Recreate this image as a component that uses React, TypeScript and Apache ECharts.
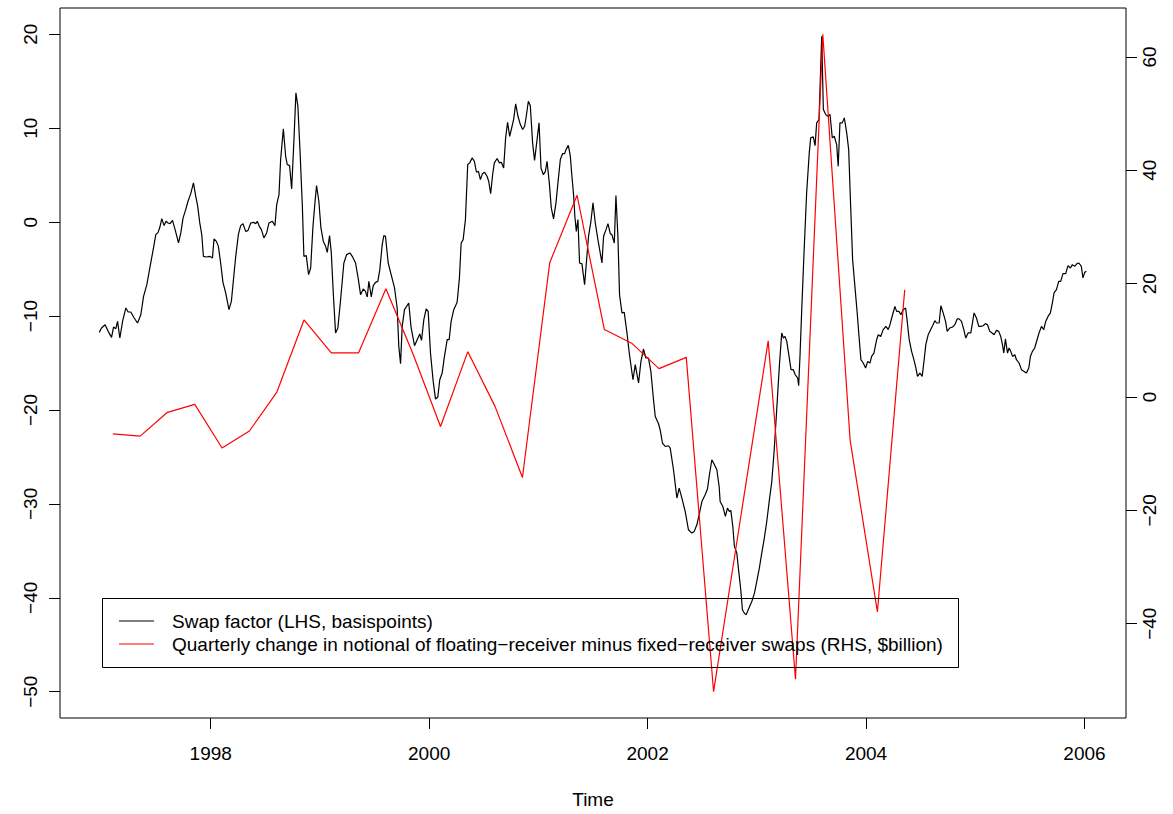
import React, { useEffect, useRef } from "react";
import * as echarts from "echarts";

const swapFactor1997to1999: [number, number][] = [
  [1996.979,-11.74],[1997.000,-11.27],[1997.033,-10.92],[1997.061,-11.63],[1997.092,-12.27],[1997.110,-11.17],[1997.131,-11.35],[1997.147,-10.57],[1997.168,-12.34],[1997.193,-10.57],[1997.223,-9.14],[1997.244,-9.57],[1997.268,-9.57],[1997.299,-10.21],[1997.330,-10.74],[1997.360,-9.86],[1997.385,-7.91],[1997.415,-6.66],[1997.445,-4.71],[1997.476,-2.75],[1997.497,-1.33],[1997.518,-1.09],[1997.534,-0.55],[1997.552,0.37],[1997.573,-0.37],[1997.591,0.09],[1997.610,-0.09],[1997.628,-0.16],[1997.650,0.19],[1997.674,-0.80],[1997.705,-2.22],[1997.726,-1.15],[1997.747,0.45],[1997.771,1.33],[1997.792,2.22],[1997.817,3.04],[1997.842,4.18],[1997.863,2.75],[1997.881,1.68],[1997.899,-0.02],[1997.918,-1.33],[1997.933,-3.64],[1997.961,-3.71],[1997.991,-3.64],
  [1998.016,-3.81],[1998.030,-1.79],[1998.052,-2.05],[1998.070,-2.58],[1998.091,-4.35],[1998.112,-6.41],[1998.137,-7.54],[1998.167,-9.32],[1998.189,-8.44],[1998.208,-6.13],[1998.229,-3.64],[1998.253,-1.33],[1998.274,-0.37],[1998.295,-0.16],[1998.320,-0.98],[1998.341,-0.91],[1998.366,-0.09],[1998.390,-0.02],[1998.412,-0.16],[1998.427,0.09],[1998.445,-0.45],[1998.464,-0.80],[1998.487,-1.68],[1998.512,-1.15],[1998.533,-0.09],[1998.564,0.09],[1998.588,-0.37],[1998.604,1.86],[1998.625,2.93],[1998.640,6.66],[1998.665,9.93],[1998.686,7.01],[1998.701,6.13],[1998.722,6.02],[1998.741,3.54],[1998.762,8.79],[1998.780,13.76],[1998.798,12.34],[1998.817,7.72],[1998.839,1.68],[1998.853,-3.64],[1998.875,-3.57],[1998.896,-5.59],[1998.915,-4.88],[1998.936,-0.45],[1998.954,2.05],[1998.969,3.89],[1998.990,2.22],
  [1999.009,-0.62],[1999.031,-2.05],[1999.052,-2.58],[1999.067,-3.22],[1999.088,-1.44],[1999.104,-3.28],[1999.122,-7.54],[1999.143,-11.80],[1999.164,-11.27],[1999.189,-8.26],[1999.219,-4.35],[1999.244,-3.46],[1999.274,-3.28],[1999.296,-3.64],[1999.326,-4.35],[1999.351,-6.05],[1999.372,-7.72],[1999.396,-7.12],[1999.417,-7.37],[1999.433,-7.97],[1999.448,-6.31],[1999.470,-7.97],[1999.488,-6.77],[1999.509,-6.41],[1999.530,-6.31],[1999.548,-5.06],[1999.570,-2.40],[1999.585,-1.44],[1999.600,-1.51],[1999.625,-4.35],[1999.652,-5.59],[1999.683,-7.01],[1999.707,-9.14],[1999.722,-13.23],[1999.738,-15.08],[1999.753,-11.10],[1999.774,-9.32],[1999.813,-8.61],[1999.835,-11.27],[1999.866,-13.16],[1999.890,-12.52],[1999.914,-11.91],[1999.930,-12.59],[1999.951,-10.39],[1999.973,-9.25],[1999.991,-9.50],
];
const swapFactor2000to2002: [number, number][] = [
  [2000.012,-13.94],[2000.037,-16.96],[2000.058,-18.84],[2000.079,-18.62],[2000.097,-16.78],[2000.119,-16.07],[2000.140,-14.30],[2000.165,-12.52],[2000.183,-12.52],[2000.201,-10.57],[2000.225,-9.32],[2000.256,-8.54],[2000.277,-5.94],[2000.293,-2.22],[2000.311,-1.86],[2000.332,0.27],[2000.353,6.13],[2000.371,6.31],[2000.393,6.84],[2000.414,6.48],[2000.433,5.31],[2000.451,5.41],[2000.469,4.53],[2000.487,5.14],[2000.508,5.31],[2000.530,4.88],[2000.545,4.35],[2000.563,3.04],[2000.582,5.17],[2000.597,6.31],[2000.622,6.77],[2000.643,6.31],[2000.661,6.37],[2000.682,5.77],[2000.700,8.97],[2000.718,10.63],[2000.737,9.14],[2000.759,10.21],[2000.773,10.92],[2000.792,12.59],[2000.813,11.27],[2000.835,10.39],[2000.856,9.86],[2000.874,10.21],[2000.889,11.27],[2000.908,12.87],[2000.926,12.41],[2000.947,8.44],[2000.965,6.58],[2000.988,8.79],
  [2001.006,10.57],[2001.024,5.77],[2001.045,5.06],[2001.064,5.41],[2001.079,6.48],[2001.100,4.18],[2001.118,1.51],[2001.139,0.34],[2001.161,2.05],[2001.179,4.18],[2001.201,6.66],[2001.222,7.30],[2001.240,7.30],[2001.253,7.72],[2001.274,8.18],[2001.292,7.08],[2001.307,4.88],[2001.322,2.93],[2001.334,0.62],[2001.347,-0.98],[2001.362,0.27],[2001.377,-4.35],[2001.399,-4.45],[2001.423,-6.66],[2001.438,-4.53],[2001.459,-1.51],[2001.481,0.09],[2001.500,2.05],[2001.521,-0.09],[2001.545,-1.86],[2001.582,-4.35],[2001.597,-1.51],[2001.619,-0.80],[2001.637,-0.16],[2001.658,-1.23],[2001.673,-1.33],[2001.695,-2.22],[2001.710,2.82],[2001.728,-1.51],[2001.743,-7.72],[2001.765,-9.67],[2001.786,-9.61],[2001.811,-11.80],[2001.834,-14.12],[2001.866,-16.78],[2001.887,-15.18],[2001.917,-17.13],[2001.939,-14.83],[2001.962,-13.51],[2001.984,-14.47],
  [2002.008,-14.47],[2002.030,-15.90],[2002.054,-18.91],[2002.070,-20.69],[2002.100,-21.47],[2002.115,-22.11],[2002.136,-23.52],[2002.161,-23.89],[2002.191,-23.81],[2002.207,-24.06],[2002.237,-26.37],[2002.268,-29.38],[2002.289,-28.32],[2002.314,-29.38],[2002.344,-30.81],[2002.374,-32.76],[2002.405,-33.11],[2002.426,-32.94],[2002.451,-32.23],[2002.475,-30.98],[2002.497,-29.75],[2002.527,-29.03],[2002.548,-28.42],[2002.566,-26.90],[2002.588,-25.30],[2002.612,-25.84],[2002.634,-26.37],[2002.655,-28.15],[2002.664,-29.75],[2002.689,-30.28],[2002.712,-31.34],[2002.731,-30.45],[2002.749,-30.81],[2002.762,-30.70],[2002.780,-32.41],[2002.795,-34.54],[2002.817,-35.24],[2002.831,-36.84],[2002.853,-39.15],[2002.868,-41.28],[2002.886,-41.64],[2002.902,-41.82],[2002.923,-41.21],[2002.954,-40.40],[2002.978,-39.51],[2002.999,-38.27],
];
const swapFactor2003to2005: [number, number][] = [
  [2003.023,-36.84],[2003.045,-35.24],[2003.066,-33.83],[2003.091,-31.88],[2003.115,-29.57],[2003.137,-27.62],[2003.158,-24.42],[2003.182,-19.98],[2003.206,-15.36],[2003.228,-11.80],[2003.243,-12.34],[2003.258,-12.17],[2003.274,-12.70],[2003.295,-14.30],[2003.313,-15.71],[2003.334,-15.71],[2003.352,-16.25],[2003.374,-16.60],[2003.383,-17.42],[2003.395,-14.30],[2003.411,-9.32],[2003.432,-3.28],[2003.456,3.11],[2003.480,7.37],[2003.493,8.97],[2003.517,9.08],[2003.533,8.15],[2003.548,10.57],[2003.569,10.92],[2003.594,19.79],[2003.609,11.99],[2003.631,11.45],[2003.649,11.27],[2003.670,11.45],[2003.691,8.97],[2003.709,9.14],[2003.731,8.26],[2003.745,5.94],[2003.761,10.57],[2003.782,10.57],[2003.801,11.10],[2003.823,9.50],[2003.841,7.72],[2003.859,1.68],[2003.877,-4.00],[2003.898,-6.84],[2003.919,-9.67],[2003.938,-12.52],[2003.953,-14.65],[2003.974,-15.00],[2003.996,-15.53],
  [2004.015,-14.83],[2004.036,-15.00],[2004.051,-14.30],[2004.072,-13.94],[2004.097,-12.52],[2004.112,-11.99],[2004.134,-12.17],[2004.157,-11.45],[2004.182,-11.10],[2004.203,-11.45],[2004.219,-10.92],[2004.243,-9.86],[2004.264,-8.97],[2004.280,-9.50],[2004.301,-9.50],[2004.319,-9.86],[2004.340,-9.32],[2004.362,-9.14],[2004.377,-10.57],[2004.395,-12.52],[2004.417,-13.76],[2004.438,-14.65],[2004.456,-15.53],[2004.471,-16.43],[2004.493,-16.07],[2004.514,-16.43],[2004.532,-14.65],[2004.547,-13.05],[2004.569,-11.99],[2004.591,-11.45],[2004.609,-11.03],[2004.630,-10.49],[2004.646,-10.74],[2004.669,-10.74],[2004.685,-8.90],[2004.706,-9.67],[2004.728,-10.57],[2004.743,-11.63],[2004.767,-11.27],[2004.792,-11.17],[2004.813,-10.92],[2004.834,-10.31],[2004.852,-10.31],[2004.874,-10.57],[2004.895,-11.45],[2004.913,-12.34],[2004.934,-11.80],[2004.959,-11.80],[2004.975,-10.68],[2004.989,-9.67],
  [2005.011,-10.21],[2005.032,-11.10],[2005.051,-11.10],[2005.072,-11.03],[2005.093,-10.81],[2005.112,-10.92],[2005.133,-11.63],[2005.154,-11.80],[2005.172,-11.99],[2005.194,-11.53],[2005.215,-11.63],[2005.233,-12.17],[2005.249,-13.05],[2005.261,-13.94],[2005.276,-12.44],[2005.295,-13.94],[2005.309,-13.40],[2005.325,-13.76],[2005.341,-14.30],[2005.362,-14.12],[2005.377,-14.65],[2005.401,-15.00],[2005.423,-15.71],[2005.447,-15.90],[2005.468,-16.07],[2005.490,-15.53],[2005.505,-14.30],[2005.523,-13.76],[2005.544,-13.40],[2005.566,-12.52],[2005.584,-11.80],[2005.606,-11.10],[2005.627,-11.45],[2005.645,-10.57],[2005.666,-10.04],[2005.688,-9.67],[2005.706,-8.61],[2005.721,-7.54],[2005.743,-7.19],[2005.764,-6.31],[2005.782,-6.31],[2005.803,-5.49],[2005.828,-5.49],[2005.849,-4.63],[2005.871,-4.88],[2005.889,-4.53],[2005.910,-4.71],[2005.931,-4.42],[2005.949,-4.35],[2005.971,-4.71],[2005.986,-5.94],[2006.002,-5.35],[2006.017,-5.24],
];

// Quarterly change in notional (RHS, $billion)
const quarterDates: number[] = [
  1997.104, 1997.354, 1997.604, 1997.854, 1998.104, 1998.354, 1998.604, 1998.854,
  1999.104, 1999.354, 1999.604, 1999.854, 2000.104, 2000.354, 2000.604, 2000.854,
  2001.104, 2001.354, 2001.604, 2001.854, 2002.104, 2002.354, 2002.604, 2002.854,
  2003.104, 2003.354, 2003.604, 2003.854, 2004.104, 2004.354,
];
const notionalChange: number[] = [
  -6.5, -6.9, -2.7, -1.3, -9.0, -6.0, 0.8, 13.6,
  7.8, 7.8, 19.1, 7.5, -5.2, 8.0, -1.7, -14.2,
  23.7, 35.6, 11.9, 9.5, 5.0, 7.0, -52.0, -21.0,
  9.9, -49.8, 64.0, -7.6, -37.9, 18.9,
];

const xTicks = [1998, 2000, 2002, 2004, 2006];
const leftTicks = [-50, -40, -30, -20, -10, 0, 10, 20];
const rightTicks = [-40, -20, 0, 20, 40, 60];

const seriesNames = [
  "Swap factor (LHS, basispoints)",
  "Quarterly change in notional of floating\u2212receiver minus fixed\u2212receiver swaps (RHS, $billion)",
];

const FONT = '"Liberation Sans", Arial, Helvetica, sans-serif';
const fmtNum = (v: number) => String(v).replace("-", "\u2212");

export default function App() {
  const ref = useRef<HTMLDivElement>(null);

  useEffect(() => {
    if (!ref.current) return;
    const chart = echarts.init(ref.current, null, { renderer: "svg" });
    const swapFactor = [...swapFactor1997to1999, ...swapFactor2000to2002, ...swapFactor2003to2005];
    const notional = quarterDates.map((d, i) => [d, notionalChange[i]]);

    const axisCommon = {
      splitLine: { show: false },
      axisLine: { show: false, onZero: false },
    };

    chart.setOption({
      animation: false,
      backgroundColor: "#ffffff",
      textStyle: { fontFamily: FONT },
      grid: {
        left: 60,
        right: 47,
        top: 8,
        bottom: 96,
        show: true,
        borderColor: "#000",
        borderWidth: 1,
        backgroundColor: "transparent",
      },
      xAxis: {
        type: "value",
        min: 1996.62,
        max: 2006.38,
        ...axisCommon,
        name: "Time",
        nameLocation: "middle",
        nameGap: 72,
        nameTextStyle: { fontSize: 19, color: "#000", fontFamily: FONT },
        axisTick: { show: true, length: 11, customValues: xTicks, lineStyle: { color: "#000", width: 1 } },
        axisLabel: {
          customValues: xTicks,
          fontSize: 19,
          color: "#000",
          fontFamily: FONT,
          margin: 26,
          formatter: (v: number) => String(v),
        },
      },
      yAxis: [
        {
          type: "value",
          position: "left",
          min: -52.8,
          max: 22.8,
          ...axisCommon,
          axisTick: { show: true, length: 11, customValues: leftTicks, lineStyle: { color: "#000", width: 1 } },
          axisLabel: {
            customValues: leftTicks,
            rotate: 90,
            fontSize: 19,
            color: "#000",
            fontFamily: FONT,
            margin: 20,
            formatter: fmtNum,
          },
        },
        {
          type: "value",
          position: "right",
          min: -56.64,
          max: 68.64,
          ...axisCommon,
          axisTick: { show: true, length: 11, customValues: rightTicks, lineStyle: { color: "#000", width: 1 } },
          axisLabel: {
            customValues: rightTicks,
            rotate: 90,
            fontSize: 19,
            color: "#000",
            fontFamily: FONT,
            margin: 14,
            formatter: fmtNum,
          },
        },
      ],
      series: [
        {
          name: seriesNames[0],
          type: "line",
          xAxisIndex: 0,
          yAxisIndex: 0,
          data: swapFactor,
          symbol: "none",
          showSymbol: false,
          lineStyle: { color: "#000", width: 1.2 },
          itemStyle: { color: "#000" },
        },
        {
          name: seriesNames[1],
          type: "line",
          xAxisIndex: 0,
          yAxisIndex: 1,
          data: notional,
          symbol: "none",
          showSymbol: false,
          lineStyle: { color: "#ff0000", width: 1.2 },
          itemStyle: { color: "#ff0000" },
        },
      ],
      graphic: [
        {
          type: "rect",
          shape: { x: 102.5, y: 598.5, width: 856, height: 69 },
          style: { fill: "none", stroke: "#000", lineWidth: 1 },
          z: 100,
        },
        {
          type: "line",
          shape: { x1: 119, y1: 621, x2: 154, y2: 621 },
          style: { stroke: "#000", lineWidth: 1.2 },
          z: 100,
        },
        {
          type: "line",
          shape: { x1: 119, y1: 644, x2: 154, y2: 644 },
          style: { stroke: "#ff0000", lineWidth: 1.2 },
          z: 100,
        },
        {
          type: "text",
          x: 172,
          y: 621,
          style: { text: seriesNames[0], fontSize: 19, fontFamily: FONT, fill: "#000", verticalAlign: "middle" },
          z: 100,
        },
        {
          type: "text",
          x: 172,
          y: 644,
          style: { text: seriesNames[1], fontSize: 19, fontFamily: FONT, fill: "#000", verticalAlign: "middle" },
          z: 100,
        },
      ],
    });

    return () => chart.dispose();
  }, []);

  return (
    <div
      ref={ref}
      style={{ position: "fixed", left: 0, top: 0, width: 1173, height: 814, background: "#fff" }}
    />
  );
}
